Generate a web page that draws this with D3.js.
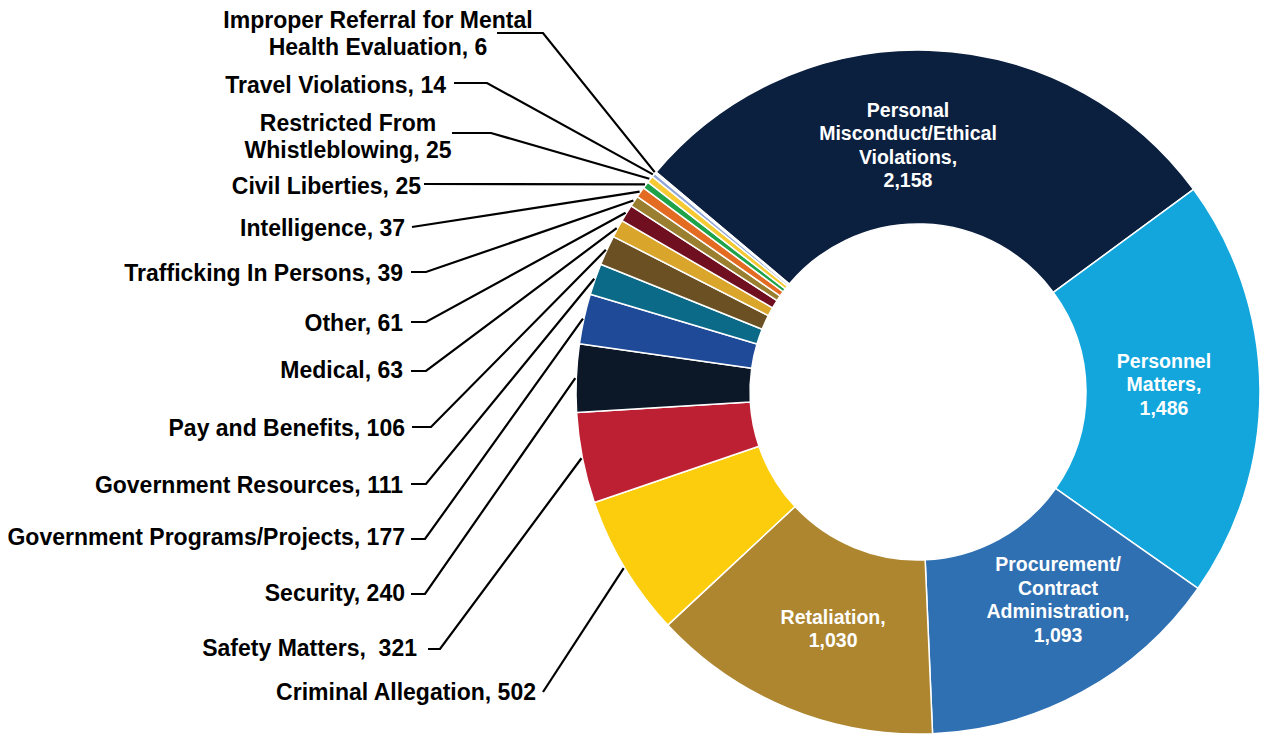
<!DOCTYPE html>
<html>
<head>
<meta charset="utf-8">
<script src="https://cdn.jsdelivr.net/npm/d3@7"></script>
<style>
  body { margin: 0; background: #fff; }
  svg { display: block; font-family: "Liberation Sans", Arial, sans-serif; font-weight: bold; }
  text { white-space: pre; }
</style>
</head>
<body>
<svg id="chart" width="1261" height="734"></svg>
<script>
// Data: complaint categories and counts (clockwise from the top-left)
const categories = [
  'Personal Misconduct/Ethical Violations', 'Personnel Matters', 'Procurement/Contract Administration',
  'Retaliation', 'Criminal Allegation', 'Safety Matters', 'Security', 'Government Programs/Projects',
  'Government Resources', 'Pay and Benefits', 'Medical', 'Other', 'Trafficking In Persons',
  'Intelligence', 'Civil Liberties', 'Restricted From Whistleblowing', 'Travel Violations',
  'Improper Referral for Mental Health Evaluation'
];
const values = [2158, 1486, 1093, 1030, 502, 321, 240, 177, 111, 106, 63, 61, 39, 37, 25, 25, 14, 6];
const colours = [
  '#0b1f3f', '#12a6dd', '#2f70b2', '#ad862f', '#fccd0c', '#bd2032', '#0c1828', '#1e4a98',
  '#0b6a88', '#6a5022', '#daa52b', '#6f0f1f', '#9a7f30', '#e36b22', '#1fa34a', '#f7c933',
  '#8ea5d8', '#e2ddcc'
];

// Label texts (as printed in the chart)
const innerLines = {
  0: ['Personal', 'Misconduct/Ethical', 'Violations,', '2,158'],
  1: ['Personnel', 'Matters,', '1,486'],
  2: ['Procurement/', 'Contract', 'Administration,', '1,093'],
  3: ['Retaliation,', '1,030']
};
const outerLines = {
  4: ['Criminal Allegation, 502'],
  5: ['Safety Matters,  321'],
  6: ['Security, 240'],
  7: ['Government Programs/Projects, 177'],
  8: ['Government Resources, 111'],
  9: ['Pay and Benefits, 106'],
  10: ['Medical, 63'],
  11: ['Other, 61'],
  12: ['Trafficking In Persons, 39'],
  13: ['Intelligence, 37'],
  14: ['Civil Liberties, 25'],
  15: ['Restricted From', 'Whistleblowing, 25'],
  16: ['Travel Violations, 14'],
  17: ['Improper Referral for Mental', 'Health Evaluation, 6']
};

// Layout of the call-out labels: text x, anchor, first baseline, leader start x, elbow x, leader y
const outerLayout = {
  4:  { x: 536, anchor: 'end',    y: 700, x0: 543, x1: 543, ly: 692 },
  5:  { x: 417, anchor: 'end',    y: 656, x0: 428, x1: 440, ly: 649 },
  6:  { x: 405, anchor: 'end',    y: 601, x0: 411, x1: 425, ly: 594 },
  7:  { x: 405, anchor: 'end',    y: 545, x0: 411, x1: 425, ly: 539 },
  8:  { x: 403, anchor: 'end',    y: 493, x0: 411, x1: 426, ly: 484 },
  9:  { x: 405, anchor: 'end',    y: 436, x0: 412, x1: 431, ly: 427 },
  10: { x: 403, anchor: 'end',    y: 378, x0: 411, x1: 426, ly: 371 },
  11: { x: 403, anchor: 'end',    y: 331, x0: 411, x1: 426, ly: 322 },
  12: { x: 403, anchor: 'end',    y: 281, x0: 411, x1: 426, ly: 272 },
  13: { x: 405, anchor: 'end',    y: 236, x0: 412, x1: 412, ly: 227 },
  14: { x: 421, anchor: 'end',    y: 194, x0: 424, x1: 424, ly: 184 },
  15: { x: 348, anchor: 'middle', y: 131, x0: 452, x1: 491, ly: 133 },
  16: { x: 446, anchor: 'end',    y: 93,  x0: 454, x1: 487, ly: 83 },
  17: { x: 378, anchor: 'middle', y: 28,  x0: 497, x1: 543, ly: 33 }
};
const innerOffset = { 0: [-18, 3], 1: [-4, -5], 2: [20, -12], 3: [10, 5] };

const svg = d3.select('#chart');
const cx = 918, cy = 392;
const outerR = 342, innerR = 168;

const data = categories.map((c, i) => ({ name: c, value: values[i], colour: colours[i], i }));

const pie = d3.pie()
  .value(d => d.value)
  .sort(null)
  .startAngle(-50 * Math.PI / 180)
  .endAngle(310 * Math.PI / 180);
const arcs = pie(data);

const arc = d3.arc().innerRadius(innerR).outerRadius(outerR);
const labelArc = d3.arc().innerRadius(250).outerRadius(250);
const edgeArc = d3.arc().innerRadius(outerR + 1).outerRadius(outerR + 1);

const g = svg.append('g').attr('transform', `translate(${cx},${cy})`);

g.selectAll('path.slice').data(arcs).enter()
  .append('path')
    .attr('class', 'slice')
    .attr('d', arc)
    .attr('fill', d => d.data.colour)
    .attr('stroke', '#fff')
    .attr('stroke-width', 1.5)
    .attr('stroke-linejoin', 'round');

// Labels inside the four big slices
arcs.filter(d => innerLines[d.data.i]).forEach(d => {
  const [x, y] = labelArc.centroid(d);
  const [ox, oy] = innerOffset[d.data.i];
  const lines = innerLines[d.data.i];
  const lh = 23.5;
  const t = g.append('text')
    .attr('text-anchor', 'middle')
    .attr('fill', '#fff')
    .attr('font-size', 19.5)
    .attr('x', x + ox)
    .attr('y', y + oy - (lines.length - 1) * lh / 2 + 7);
  lines.forEach((l, k) => {
    t.append('tspan').attr('x', x + ox).attr('dy', k ? lh : 0).text(l);
  });
});

// Call-out labels and leader lines for the small slices
const callouts = arcs.filter(d => outerLines[d.data.i]);

svg.selectAll('path.leader').data(callouts).enter()
  .append('path')
    .attr('class', 'leader')
    .attr('fill', 'none')
    .attr('stroke', '#000')
    .attr('stroke-width', 2.2)
    .attr('d', d => {
      const L = outerLayout[d.data.i];
      const [ex, ey] = edgeArc.centroid(d);
      return d3.line()([[L.x0, L.ly], [L.x1, L.ly], [cx + ex, cy + ey]]);
    });

callouts.forEach(d => {
  const L = outerLayout[d.data.i];
  const t = svg.append('text')
    .attr('text-anchor', L.anchor)
    .attr('fill', '#000')
    .attr('font-size', 23)
    .attr('x', L.x)
    .attr('y', L.y);
  outerLines[d.data.i].forEach((l, k) => {
    t.append('tspan').attr('x', L.x).attr('dy', k ? 27 : 0).text(l);
  });
});
</script>
</body>
</html>
